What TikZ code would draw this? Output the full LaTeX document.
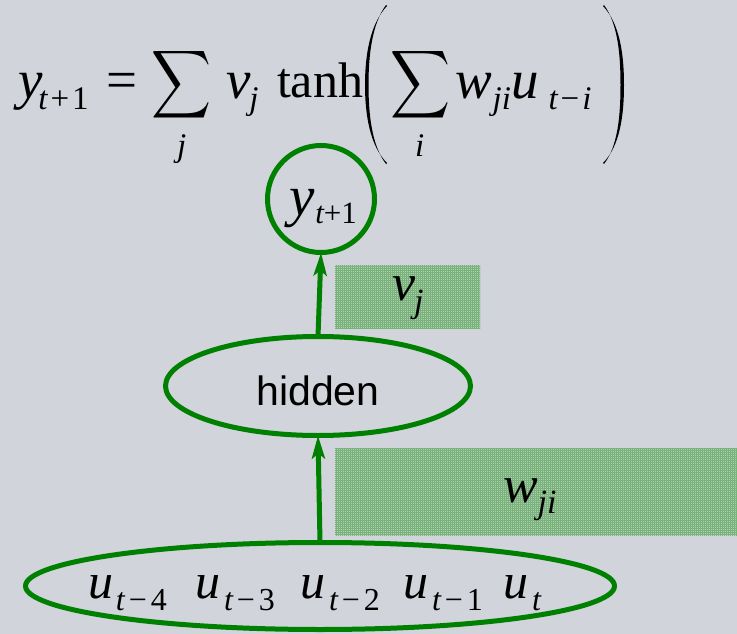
\documentclass[tikz,border=0pt]{standalone}
\usepackage{fontspec}
\setmainfont{Liberation Serif}
\newfontfamily\arialf{Liberation Sans}
\usetikzlibrary{shapes.geometric,arrows.meta,patterns}
\definecolor{bgc}{RGB}{209,212,219}
\definecolor{dkgreen}{RGB}{0,128,0}
\definecolor{boxbase}{RGB}{178,204,181}
\definecolor{gridc}{RGB}{120,180,122}
\newcommand{\fsz}[1]{\fontsize{#1}{#1}\selectfont}
\newcommand{\sbx}[2]{\raisebox{-#1pt}{#2}}
\pgfdeclarepatternformonly{finegrid}{\pgfqpoint{-1pt}{-1pt}}{\pgfqpoint{3pt}{3pt}}{\pgfqpoint{2pt}{2pt}}{%
  \pgfsetlinewidth{0.45pt}%
  \pgfpathmoveto{\pgfqpoint{0pt}{0pt}}\pgfpathlineto{\pgfqpoint{0pt}{2.1pt}}%
  \pgfpathmoveto{\pgfqpoint{0pt}{0pt}}\pgfpathlineto{\pgfqpoint{2.1pt}{0pt}}%
  \pgfusepath{stroke}}
\tikzset{
  txt/.style={inner sep=0pt, outer sep=0pt, anchor=base west, text=black},
  grn/.style={draw=dkgreen, line width=5pt, inner sep=0pt, outer sep=0pt},
  arr/.style={draw=dkgreen, line width=5pt, -{Stealth[length=23pt,width=13pt,inset=5pt]}},
  wbox/.style={inner sep=0pt, outer sep=0pt, anchor=north west, preaction={fill=boxbase}, pattern=finegrid, pattern color=gridc},
  paren/.style={fill=black}
}
\begin{document}
\begin{tikzpicture}[x=1pt,y=-1pt]
\useasboundingbox (0,0) rectangle (737,634);
\fill[bgc] (0,0) rectangle (737,634);

% formula
\node[txt] (fy) at (18,99) {\fsz{55}\itshape y\kern-4pt\upshape\sbx{11}{\fsz{33}{\itshape t}\kern3pt+\kern3pt1}};
\node[txt] (feq) at (106,99) {\fsz{55}=};
\node[inner sep=0pt] (fsum1) at (182,85) {\resizebox*{60pt}{76pt}{$\displaystyle\sum$}};
\node[txt] (fj1) at (177,157) {\fsz{33}\itshape j};
\node[txt] (fv) at (226,99) {\fsz{55}\itshape v\kern-1pt\sbx{11}{\fsz{33}j}};
\node[txt] (ftanh) at (277,98) {\fsz{50}tanh};
\node[inner sep=0pt] (fsum2) at (421,85) {\resizebox*{60pt}{76pt}{$\displaystyle\sum$}};
\node[txt] (fi) at (415,157) {\fsz{33}\itshape i};
\node[txt] (fw) at (455,99) {\fsz{55}\itshape w\kern1pt\sbx{11}{\fsz{33}ji}\kern0pt u\kern10pt\upshape\sbx{11}{\fsz{33}{\itshape t}\kern3pt−\kern3pt{\itshape i}}};
% parentheses
\fill[paren] (387,6) .. controls (370,24) and (365,55) .. (365,85)
  .. controls (365,115) and (370,146) .. (387,163)
  -- (386,164) .. controls (372,146) and (368.5,115) .. (368.5,85)
  .. controls (368.5,55) and (372,24) .. (386,5) -- cycle;
\fill[paren] (603,6) .. controls (620,24) and (624,55) .. (624,85)
  .. controls (624,115) and (620,146) .. (603,163)
  -- (604,164) .. controls (618,146) and (620.5,115) .. (620.5,85)
  .. controls (620.5,55) and (618,24) .. (604,5) -- cycle;

% weight boxes
\node[wbox, minimum width=145pt, minimum height=63pt] (vbox) at (335,265) {};
\node[wbox, minimum width=402pt, minimum height=87pt] (wbox) at (335,448) {};

% nodes
\node[grn, circle, minimum size=107pt] (out) at (321,199) {};
\node[txt] (outy) at (289,215) {\fsz{57}\itshape y\kern1pt\upshape\sbx{8}{\fsz{31}{\itshape t}+1}};

\node[grn, ellipse, minimum width=305pt, minimum height=99pt] (hid) at (318,386) {};
\node[inner sep=0pt, anchor=base] (hidt) at (318,405) {\arialf\fsz{41}hidden};

\node[grn, ellipse, minimum width=589pt, minimum height=87pt] (inp) at (320,586) {};

% weight labels
\node[txt] (vl) at (392,300) {\fsz{52}\itshape v\kern-1pt\sbx{12}{\fsz{34}j}};
\node[txt] (wl) at (503,502) {\fsz{52}\itshape w\kern0pt\sbx{11}{\fsz{34}ji}};

% input terms
\node[txt] (u4) at (88,598) {\fsz{50}\itshape u\kern3pt\upshape\sbx{12}{\fsz{32}{\itshape t}\kern4pt−\kern4pt4}};
\node[txt] (u3) at (195,598) {\fsz{50}\itshape u\kern4pt\upshape\sbx{12}{\fsz{32}{\itshape t}\kern4pt−\kern4pt3}};
\node[txt] (u2) at (300,598) {\fsz{50}\itshape u\kern4pt\upshape\sbx{12}{\fsz{32}{\itshape t}\kern4pt−\kern4pt2}};
\node[txt] (u1) at (403,598) {\fsz{50}\itshape u\kern4pt\upshape\sbx{12}{\fsz{32}{\itshape t}\kern4pt−\kern4pt1}};
\node[txt] (u0) at (503,598) {\fsz{50}\itshape u\kern4pt\sbx{12}{\fsz{32}t}};

% connectors
\draw[arr] (hid.north) -- (out.south);
\draw[arr] (inp.north) -- (hid.south);
\end{tikzpicture}
\end{document}
